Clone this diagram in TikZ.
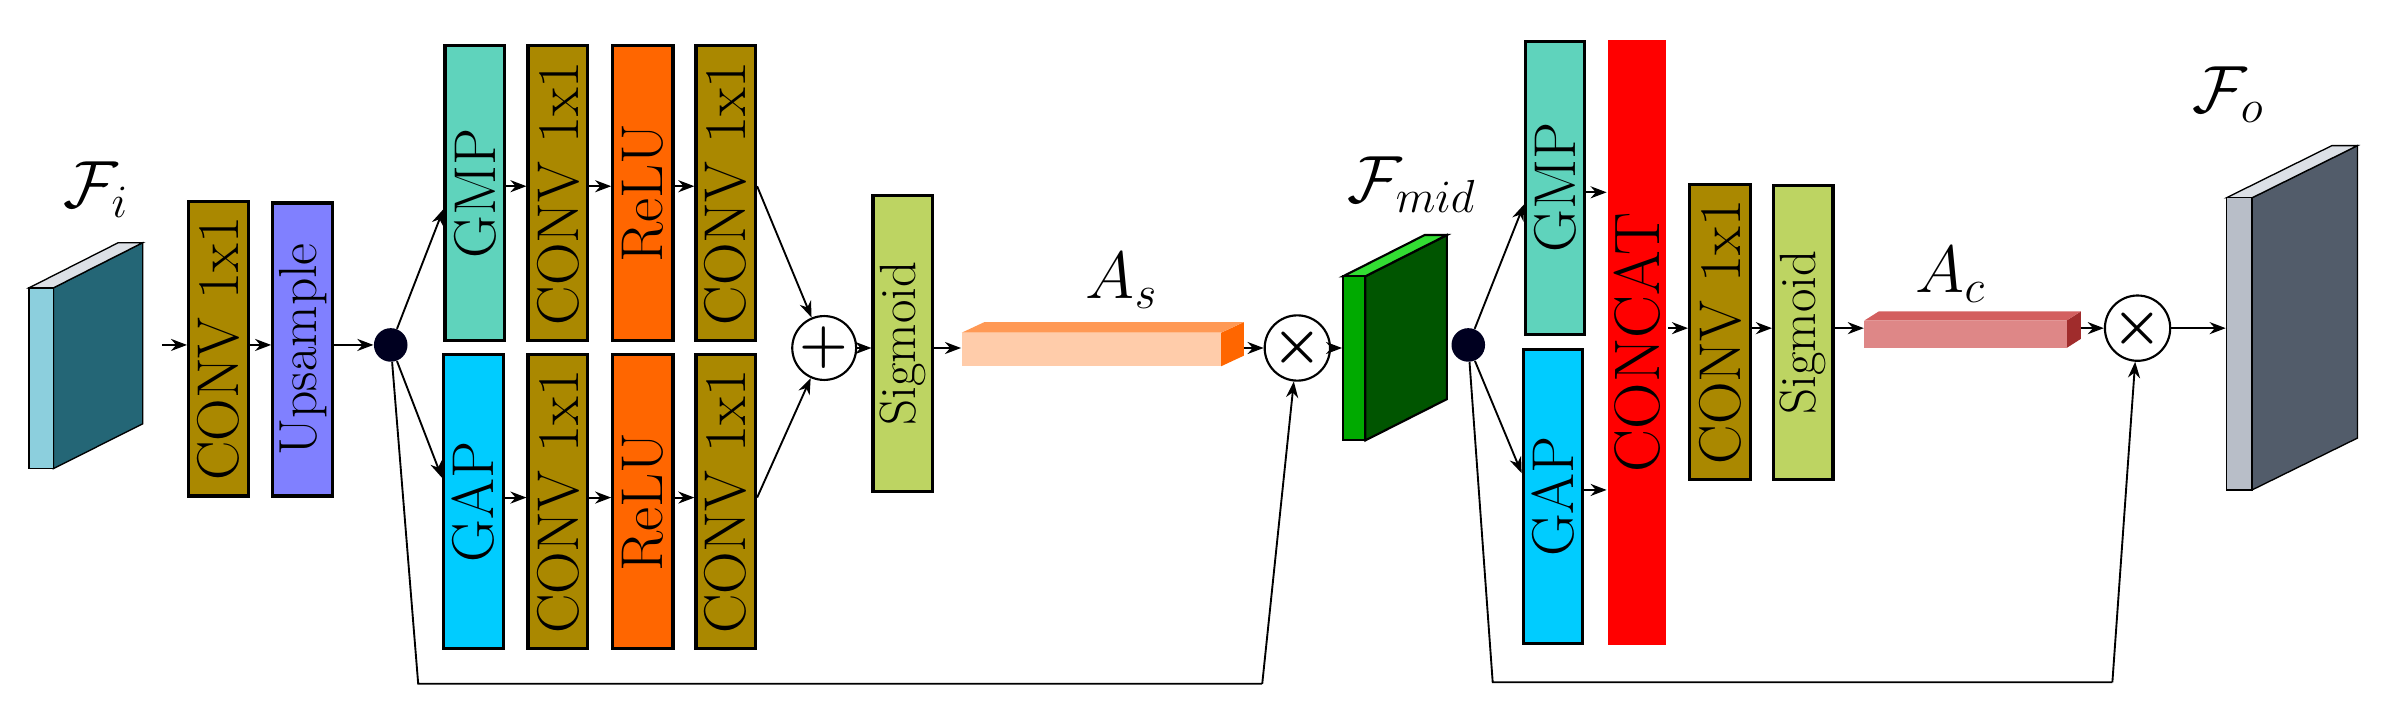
\documentclass[tikz,border=0pt]{standalone}
\usetikzlibrary{fit,arrows.meta}
\definecolor{olive}{HTML}{AA8800}
\definecolor{ups}{HTML}{8080FF}
\definecolor{gmp}{HTML}{5FD3BC}
\definecolor{gap}{HTML}{00CCFF}
\definecolor{relu}{HTML}{FF6600}
\definecolor{sig}{HTML}{BDD462}
\definecolor{teal1}{HTML}{8CCFDD}
\definecolor{teal2}{HTML}{246676}
\definecolor{gr1}{HTML}{00AA00}
\definecolor{gr2}{HTML}{005500}
\definecolor{gr3}{HTML}{33DD33}
\definecolor{gy1}{HTML}{B8BEC8}
\definecolor{gy2}{HTML}{525C6A}
\definecolor{gy3}{HTML}{DCE0E6}
\definecolor{dotc}{HTML}{000020}
\definecolor{as1}{HTML}{FFCCAA}
\definecolor{as2}{HTML}{FF9955}
\definecolor{ac1}{HTML}{DE8787}
\definecolor{ac2}{HTML}{D35F5F}
\definecolor{ac3}{HTML}{A02C2C}
\begin{document}
\begin{tikzpicture}[x=0.02cm,y=-0.02cm,
  blk/.style={draw=black,line width=1.2pt,inner sep=0pt,fit={#1}},
  lab/.style={rotate=90,font=\fontsize{22}{24}\selectfont},
  slab/.style={rotate=90,font=\fontsize{19}{22}\selectfont},
  mlab/.style={font=\fontsize{26}{30}\selectfont},
  arr/.style={-{Stealth[length=6pt,width=4.5pt]},line width=0.7pt},
  ln/.style={line width=0.7pt},
  dotn/.style={circle,fill=dotc,minimum size=0.44cm,inner sep=0pt},
  op/.style={circle,draw=black,fill=white,line width=0.8pt,minimum size=0.6cm,inner sep=0pt,font=\fontsize{22}{24}\selectfont\boldmath}]
\useasboundingbox (0,0) rectangle (1560,467);
% F_i slab
\fill[teal2,draw=black,line width=0.5pt] (35,188.6) -- (93.5,159) -- (93.5,277.7) -- (35,307) -- cycle;
\fill[gy3,draw=black,line width=0.5pt] (19,188.6) -- (35,188.6) -- (93.5,159) -- (77.5,159) -- cycle;
\node[fill=teal1,draw=black,line width=0.5pt,inner sep=0pt,fit={(19,188.6)(35,307)}] (fi) {};
\node[mlab] (fil) at (63,124) {$\mathcal{F}_i$};
\coordinate (in) at (106,226);
% boxes
\node[blk={(123.6,132)(162.7,325)},fill=olive] (cv0) {};
\node[lab] (cv0t) at (cv0.center) {CONV 1x1};
\node[blk={(178.7,133)(218,325)},fill=ups] (up) {};
\node[slab,font=\fontsize{20}{22}\selectfont] (upt) at (up.center) {Upsample};
\node[dotn] (d1) at (256,226) {};
\draw[arr] (in) -- (cv0.west|-in);
\draw[arr] (cv0.east|-in) -- (up.west|-in);
\draw[arr] (up.east|-in) -- (d1);
% top row
\node[blk={(291.6,30)(330.7,223)},fill=gmp] (gmp1) {};
\node[lab] at (gmp1.center) (gmp1t) {GMP};
\node[blk={(346,30)(385,223)},fill=olive] (c1) {};
\node[lab] at (c1.center) (c1t) {CONV 1x1};
\node[blk={(401.5,30)(441,223)},fill=relu] (r1) {};
\node[lab] at (r1.center) (r1t) {ReLU};
\node[blk={(456,30)(495,223)},fill=olive] (c2) {};
\node[lab] at (c2.center) (c2t) {CONV 1x1};
% bottom row
\node[blk={(290.6,232.5)(330,425)},fill=gap] (gap1) {};
\node[lab] at (gap1.center) (gap1t) {GAP};
\node[blk={(346,232.5)(385,425)},fill=olive] (c3) {};
\node[lab] at (c3.center) (c3t) {CONV 1x1};
\node[blk={(401.5,232.5)(441,425)},fill=relu] (r2) {};
\node[lab] at (r2.center) (r2t) {ReLU};
\node[blk={(456,232.5)(495,425)},fill=olive] (c4) {};
\node[lab] at (c4.center) (c4t) {CONV 1x1};
\coordinate (ya) at (0,122);
\coordinate (yb) at (0,326);
\draw[arr] (gmp1.east|-ya) -- (c1.west|-ya);
\draw[arr] (c1.east|-ya) -- (r1.west|-ya);
\draw[arr] (r1.east|-ya) -- (c2.west|-ya);
\draw[arr] (gap1.east|-yb) -- (c3.west|-yb);
\draw[arr] (c3.east|-yb) -- (r2.west|-yb);
\draw[arr] (r2.east|-yb) -- (c4.west|-yb);
\draw[arr] (d1) -- (gmp1.west|-0,137);
\draw[arr] (d1) -- (gap1.west|-0,313);
% plus
\node[op] (pl) at (540,228) {$+$};
\draw[arr] (c2.east|-ya) -- (pl);
\draw[arr] (c4.east|-yb) -- (pl);
\node[blk={(572,128)(611,322)},fill=sig] (s1) {};
\node[slab] at (s1.center) (s1t) {Sigmoid};
\draw[arr] (pl) -- (s1.west|-pl);
% A_s bar
\fill[relu] (800,218) -- (815,211) -- (815,233) -- (800,240) -- cycle;
\fill[as2] (630,218) -- (645,211) -- (815,211) -- (800,218) -- cycle;
\node[fill=as1,inner sep=0pt,fit={(630,218)(800,240)}] (as) {};
\node[mlab] (asl) at (735,184) {$A_s$};
\draw[arr] (s1.east|-pl) -- (as.west|-pl);
\node[op] (m1) at (850,228) {$\times$};
\coordinate (asr) at (815,228);
\draw[arr] (asr) -- (m1);
% F_mid
\fill[gr2,draw=black,line width=0.8pt] (894.6,181) -- (948,154) -- (948,261.5) -- (894.6,288.5) -- cycle;
\fill[gr3,draw=black,line width=0.8pt] (880,181) -- (894.6,181) -- (948,154) -- (933.4,154) -- cycle;
\node[fill=gr1,draw=black,line width=0.8pt,inner sep=0pt,fit={(880,181)(894.6,288.5)}] (fm) {};
\node[mlab] (fml) at (925,121) {$\mathcal{F}_{mid}$};
\draw[arr] (m1) -- (fm.west|-m1);
% skip 1
\coordinate (k1) at (274,448);
\coordinate (k2) at (827,448);
\draw[ln] (d1) -- (k1) -- (k2);
\draw[arr] (k2) -- (m1);
% channel part
\node[dotn] (d2) at (962,226) {};
\node[blk={(999.5,27)(1038,219)},fill=gmp] (gmp2) {};
\node[lab] at (gmp2.center) (gmp2t) {GMP};
\node[blk={(998,229)(1037,421.6)},fill=gap] (gap2) {};
\node[lab] at (gap2.center) (gap2t) {GAP};
\node[blk={(1053.7,26)(1091.7,422.5)},fill=red,draw=none] (cc) {};
\node[lab,font=\fontsize{24}{26}\selectfont] at (cc.center) (cct) {CONCAT};
\draw[arr] (d2) -- (gmp2.west|-0,134);
\draw[arr] (d2) -- (gap2.west|-0,310);
\draw[arr] (gmp2.east|-0,126) -- (cc.west|-0,126);
\draw[arr] (gap2.east|-0,321) -- (cc.west|-0,321);
\node[blk={(1107,121)(1147,314)},fill=olive] (cv2) {};
\node[lab] at (cv2.center) (cv2t) {CONV 1x1};
\node[blk={(1162,121.6)(1201,314)},fill=sig] (s2) {};
\node[slab] at (s2.center) (s2t) {Sigmoid};
\coordinate (yc) at (0,215);
\draw[arr] (cc.east|-yc) -- (cv2.west|-yc);
\draw[arr] (cv2.east|-yc) -- (s2.west|-yc);
% A_c bar
\fill[ac3] (1354,210) -- (1363.4,204) -- (1363.4,222) -- (1354,228) -- cycle;
\fill[ac2] (1221.5,210) -- (1231,204) -- (1363.4,204) -- (1354,210) -- cycle;
\node[fill=ac1,inner sep=0pt,fit={(1221.5,210)(1354,228)}] (ac) {};
\node[mlab] (acl) at (1278,180) {$A_c$};
\draw[arr] (s2.east|-yc) -- (ac.west|-yc);
\node[op] (m2) at (1400.5,215) {$\times$};
\coordinate (acr) at (1363.4,215);
\draw[arr] (acr) -- (m2);
% F_o
\fill[gy2,draw=black,line width=0.5pt] (1475.5,129.6) -- (1544.6,95.4) -- (1544.6,287) -- (1475.5,321) -- cycle;
\fill[gy3,draw=black,line width=0.5pt] (1458.7,129.6) -- (1475.5,129.6) -- (1544.6,95.4) -- (1527.8,95.4) -- cycle;
\node[fill=gy1,draw=black,line width=0.5pt,inner sep=0pt,fit={(1458.7,129.6)(1475.5,321)}] (fo) {};
\node[mlab] (fol) at (1460,62) {$\mathcal{F}_o$};
\draw[arr] (m2) -- (fo.west|-m2);
% skip 2
\coordinate (k3) at (978,447);
\coordinate (k4) at (1384,447);
\draw[ln] (d2) -- (k3) -- (k4);
\draw[arr] (k4) -- (m2);
\end{tikzpicture}
\end{document}
